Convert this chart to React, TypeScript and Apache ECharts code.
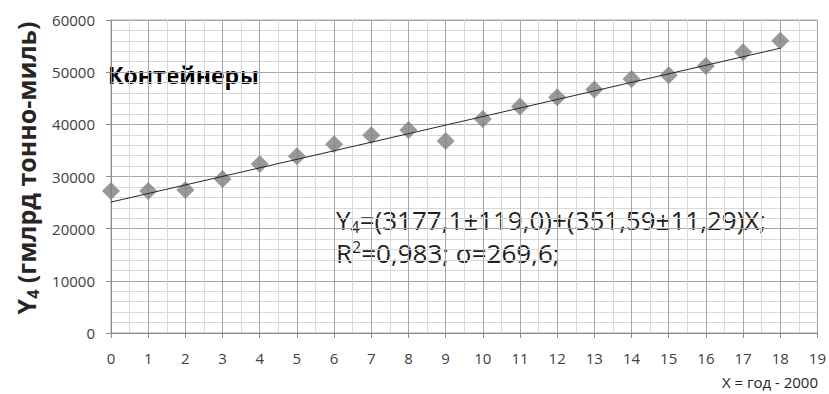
import React, { useEffect, useRef } from "react";
import * as echarts from "echarts";

const years = [0, 1, 2, 3, 4, 5, 6, 7, 8, 9, 10, 11, 12, 13, 14, 15, 16, 17, 18];
const values = [27200, 27200, 27400, 29500, 32400, 33900, 36200, 37900, 38900, 36800, 41000, 43400, 45200, 46700, 48700, 49400, 51200, 53800, 56000];
const trendX = [0, 18];
const trendY = [25100, 54600];
const yTitle = "Y";
const seriesLabel = "Контейнеры";

const FONT = "'Open Sans', 'Liberation Sans', sans-serif";

export default function App() {
  const ref = useRef<HTMLDivElement>(null);
  useEffect(() => {
    const chart = echarts.init(ref.current!, null, { renderer: "svg" });
    chart.setOption({
      animation: false,
      backgroundColor: "#ffffff",
      grid: { left: 111, right: 11, top: 20, bottom: 61, show: true, borderColor: "#a6a6a6", borderWidth: 1 },
      xAxis: {
        type: "value",
        min: 0,
        max: 19,
        interval: 1,
        axisLine: { show: true, lineStyle: { color: "#8c8c8c" } },
        axisTick: { show: true, length: 5, lineStyle: { color: "#8c8c8c" } },
        axisLabel: { color: "#404040", fontSize: 15, fontFamily: FONT, margin: 17 },
        splitLine: { show: true, lineStyle: { color: "#a6a6a6", width: 1 } },
        minorTick: { show: false, splitNumber: 2 },
        minorSplitLine: { show: true, lineStyle: { color: "#d9d9d9", width: 1 } },
      },
      yAxis: {
        type: "value",
        min: 0,
        max: 60000,
        interval: 10000,
        axisLine: { show: true, lineStyle: { color: "#8c8c8c" } },
        axisTick: { show: true, length: 5, lineStyle: { color: "#8c8c8c" } },
        axisLabel: { color: "#404040", fontSize: 15, fontFamily: FONT, margin: 16, formatter: (v: number) => String(v) },
        splitLine: { show: true, lineStyle: { color: "#a6a6a6", width: 1 } },
        minorTick: { show: false, splitNumber: 5 },
        minorSplitLine: { show: true, lineStyle: { color: "#d9d9d9", width: 1 } },
      },
      series: [
        {
          type: "line",
          data: trendX.map((x, i) => [x, trendY[i]]),
          showSymbol: false,
          symbol: "none",
          lineStyle: { color: "#262626", width: 1 },
          z: 3,
        },
        {
          type: "scatter",
          data: years.map((x, i) => [x, values[i]]),
          symbol: "diamond",
          symbolSize: 18,
          itemStyle: { color: "#7f7f7f" },
          z: 2,
        },
      ],
      graphic: [
        {
          type: "text",
          x: 26,
          y: 168,
          rotation: Math.PI / 2,
          style: {
            text: "{a|" + yTitle + "}{s|4}{a| (гмлрд тонно-миль)}",
            align: "center",
            verticalAlign: "middle",
            rich: {
              a: { fontSize: 25, fontWeight: "bold", fontFamily: FONT, fill: "#262626", lineHeight: 30, verticalAlign: "middle" },
              s: { fontSize: 16, fontWeight: "bold", fontFamily: FONT, fill: "#262626", lineHeight: 30, verticalAlign: "bottom" },
            },
          },
        },
        {
          type: "text",
          x: 108,
          y: 75,
          style: {
            text: seriesLabel,
            fontSize: 23,
            fontWeight: "bold",
            fontFamily: FONT,
            fill: "#000000",
            verticalAlign: "middle",
          },
        },
        {
          type: "text",
          x: 336,
          y: 220,
          style: {
            text: "{a|Y}{s|4}{a|=(3177,1±119,0)+(351,59±11,29)X;}",
            verticalAlign: "middle",
            rich: {
              a: { fontSize: 26, fontFamily: FONT, fill: "#1f1f1f", lineHeight: 29, verticalAlign: "middle" },
              s: { fontSize: 16, fontFamily: FONT, fill: "#1f1f1f", lineHeight: 29, verticalAlign: "bottom" },
            },
          },
        },
        {
          type: "text",
          x: 336,
          y: 253,
          style: {
            text: "{a|R}{p|2}{a|=0,983; σ=269,6;}",
            verticalAlign: "middle",
            rich: {
              a: { fontSize: 26, fontFamily: FONT, fill: "#1f1f1f", lineHeight: 29, verticalAlign: "middle" },
              p: { fontSize: 16, fontFamily: FONT, fill: "#1f1f1f", lineHeight: 29, verticalAlign: "top" },
            },
          },
        },
        {
          type: "text",
          x: 818,
          y: 382,
          style: {
            text: "X = год - 2000",
            fontSize: 15,
            fontFamily: FONT,
            fill: "#262626",
            align: "right",
            verticalAlign: "middle",
          },
        },
      ],
    });
    return () => chart.dispose();
  }, []);
  return <div ref={ref} style={{ position: "absolute", left: 0, top: 0, width: 829, height: 394 }} />;
}
